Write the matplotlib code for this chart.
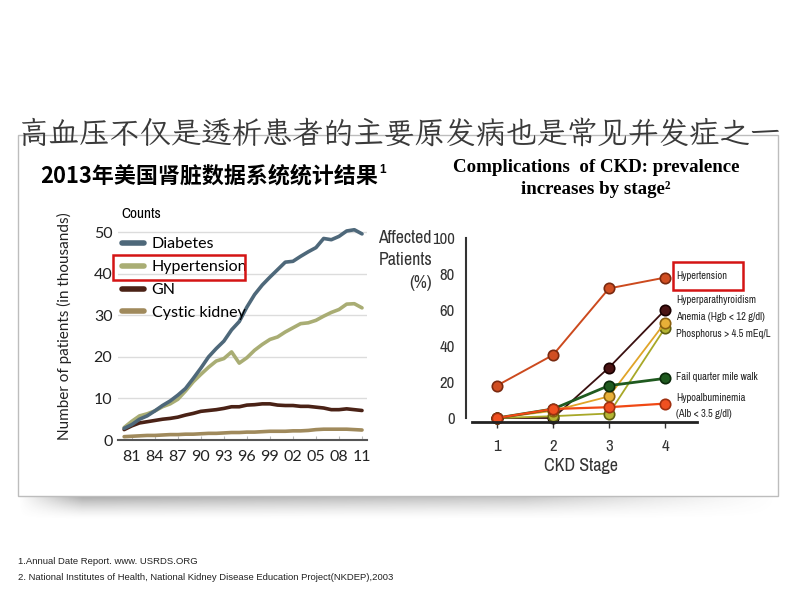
import numpy as np
import matplotlib.pyplot as plt
from matplotlib.patches import Rectangle

W, H = 800, 600

# left chart: USRDS counts (thousands)
years = list(range(1980, 2012))
diabetes = [2.8, 3.7, 5.0, 5.8, 7.0, 8.3, 9.4, 10.8, 12.4, 14.8, 17.3, 20.0, 22.0, 23.8, 26.5, 28.5,
            32.0, 35.0, 37.3, 39.2, 41.0, 42.8, 43.0, 44.2, 45.3, 46.3, 48.5, 48.2, 49.0, 50.3, 50.6, 49.6]
hypertension = [3.0, 4.5, 5.8, 6.3, 7.0, 8.0, 8.7, 9.8, 11.8, 14.0, 15.8, 17.5, 19.0, 19.6, 21.2, 18.5,
                19.8, 21.6, 23.0, 24.2, 24.8, 26.0, 27.0, 28.0, 28.2, 28.8, 29.8, 30.7, 31.4, 32.7, 32.8, 31.8]
gn = [2.5, 3.4, 4.1, 4.4, 4.7, 5.0, 5.2, 5.5, 6.0, 6.4, 6.9, 7.1, 7.3, 7.6, 8.0, 8.0,
      8.4, 8.5, 8.7, 8.7, 8.4, 8.3, 8.3, 8.1, 8.1, 7.9, 7.7, 7.3, 7.3, 7.5, 7.3, 7.1]
cystic = [0.8, 0.9, 1.0, 1.1, 1.1, 1.2, 1.3, 1.3, 1.4, 1.4, 1.5, 1.6, 1.6, 1.7, 1.8, 1.8,
          1.9, 1.9, 2.0, 2.1, 2.1, 2.1, 2.2, 2.2, 2.3, 2.5, 2.6, 2.6, 2.6, 2.6, 2.5, 2.4]
year_ticks = list(range(1981, 2012, 3))
year_labels = ['81', '84', '87', '90', '93', '96', '99', '02', '05', '08', '11']

# right chart: CKD complications (%)
stages = [1, 2, 3, 4]
ckd_htn = [18, 35, 72, 78]
hyperpara = [0, 0, 28, 60]
anemia = [0, 4, 12, 53]
phosphorus = [0, 1, 2.5, 50]
walk = [0, 5, 18, 22]
hypoalb = [0, 5, 6, 8]

NARROW = ['Archivo Narrow', 'DejaVu Sans']
CJK = ['Noto Sans CJK SC', 'DejaVu Sans']
KAI = ['LXGW WenKai TC', 'Noto Sans CJK SC', 'DejaVu Sans']


def fx(x):
    return x / W


def fy(y):
    return 1 - y / H


fig = plt.figure(figsize=(8, 6), dpi=100)
fig.patch.set_facecolor('white')

# slide frame with soft shadow
fig.patches.append(Rectangle((fx(18), fy(496)), fx(760), 361 / H, transform=fig.transFigure,
                             facecolor='white', edgecolor='#bdbdbd', lw=1, zorder=-5))
sh = fig.add_axes([fx(18), fy(520), fx(760), 24 / H], zorder=-6)
rows = np.linspace(1, 0, 24) ** 1.5
xs = np.linspace(0, 1, 300)
cols = np.clip(xs * 12, 0, 1) * np.clip((1 - xs) * 3, 0, 1) * (1 - 0.5 * xs)
img = np.zeros((24, 300, 4))
img[..., :3] = 0.42
img[..., 3] = np.outer(rows, cols) * 0.6
sh.imshow(img, aspect='auto', interpolation='bilinear')
sh.axis('off')

fig.text(fx(400), fy(133), '高血压不仅是透析患者的主要原发病也是常见并发症之一', family=KAI,
         fontsize=22, color='#3a3a3a', ha='center', va='center', zorder=5)

t1 = fig.text(fx(40), fy(176), '2013年美国肾脏数据系统统计结果', family=CJK, fontsize=15.8,
              weight='bold', color='black', ha='left', va='center')
r = fig.canvas.get_renderer()
ext = t1.get_window_extent(r)
fig.text(ext.x1 / W + 0.002, fy(170), '1', family='Liberation Sans', fontsize=8.5, weight='bold',
         ha='left', va='center')

fig.text(fx(596), fy(167), 'Complications  of CKD: prevalence', family='Liberation Serif',
         fontsize=13.6, weight='bold', ha='center', va='center')
fig.text(fx(596), fy(190), 'increases by stage²', family='Liberation Serif',
         fontsize=13.6, weight='bold', ha='center', va='center')

fig.text(fx(18), fy(562), '1.Annual Date Report. www. USRDS.ORG', family='Liberation Sans',
         fontsize=6.8, color='#222222', va='center')
fig.text(fx(18), fy(578), '2. National Institutes of Health, National Kidney Disease Education Project(NKDEP),2003',
         family='Liberation Sans', fontsize=6.8, color='#222222', va='center')

# ---- left chart
ax = fig.add_axes([fx(118), fy(440), fx(249), 214 / H])
ax.patch.set_alpha(0)
ax.plot(years, cystic, color='#a08a5c', lw=2.6, solid_capstyle='round', label='Cystic kidney')
ax.plot(years, gn, color='#4a2216', lw=2.6, solid_capstyle='round', label='GN')
ax.plot(years, hypertension, color='#a9ad74', lw=2.6, solid_capstyle='round', label='Hypertension')
ax.plot(years, diabetes, color='#4e687a', lw=2.6, solid_capstyle='round', label='Diabetes')
ax.set_xlim(1979.2, 2011.65)
ax.set_ylim(0, 51.5)
ax.set_yticks([0, 10, 20, 30, 40, 50])
ax.set_xticks(year_ticks)
ax.set_xticklabels(year_labels)
ax.grid(axis='y', color='#dcdcdc', lw=1)
ax.set_axisbelow(True)
for s in ['top', 'right', 'left']:
    ax.spines[s].set_visible(False)
ax.spines['bottom'].set_color('#555555')
ax.spines['bottom'].set_linewidth(1.5)
ax.tick_params(axis='y', length=0, pad=4, labelsize=11.5, labelcolor='#222222')
ax.tick_params(axis='x', direction='in', length=3, color='#bbbbbb', pad=7, labelsize=11.5,
               labelcolor='#222222')
for t in ax.get_xticklabels() + ax.get_yticklabels():
    t.set_family('Lato')
ax.set_ylabel('Number of patients (in thousands)', family='Lato', fontsize=11, color='#222222')
ax.yaxis.set_label_coords((72 - 118) / 249, 0.53)

handles, labels = ax.get_legend_handles_labels()
leg = ax.legend(handles[::-1], labels[::-1], loc='upper left', bbox_to_anchor=(fx(122), fy(237)),
                bbox_transform=fig.transFigure, frameon=False, borderpad=0, borderaxespad=0,
                handlelength=1.4, handletextpad=0.45, labelspacing=0.55,
                prop={'family': 'Lato', 'size': 11.5})
for ln in leg.get_lines():
    ln.set_linewidth(4)
    ln.set_solid_capstyle('round')

fig.text(fx(121), fy(214), 'Counts', family=NARROW, fontsize=11, weight='bold', va='center')
fig.patches.append(Rectangle((fx(113), fy(280)), fx(132), 25 / H, transform=fig.transFigure,
                             fill=False, edgecolor='#d41414', lw=1.8, zorder=10))

# ---- right chart
bx = fig.add_axes([fx(466), fy(422), fx(231), 184 / H])
bx.patch.set_alpha(0)
series = [
    (hyperpara, '#3a1010', '#4a1414', '#1a0000', 1.3),
    (phosphorus, '#a8a828', '#b4b432', '#5e5e10', 1.3),
    (anemia, '#e0a428', '#e8b038', '#8a6010', 1.3),
    (walk, '#1f5a1f', '#1f5a1f', '#0a2a0a', 2.0),
    (hypoalb, '#f04814', '#f05020', '#a03010', 1.6),
    (ckd_htn, '#cc4a1e', '#d04e22', '#7a2a10', 1.4),
]
for vals, c, fc, ec, lw in series:
    bx.plot(stages, vals, color=c, lw=lw, marker='o', ms=7.5, mfc=fc, mec=ec, mew=1.2, clip_on=False)
bx.set_xlim(1 - 31 / 56, 4 + 32 / 56)
bx.set_ylim(-4 / 1.8, 100)
bx.set_xticks(stages)
bx.set_yticks([0, 20, 40, 60, 80, 100])
for s in ['top', 'right']:
    bx.spines[s].set_visible(False)
bx.spines['left'].set_bounds(0, 100)
bx.spines['left'].set_color('#333333')
bx.spines['left'].set_linewidth(1.5)
bx.spines['bottom'].set_bounds(1 - 25 / 56, 4 + 32 / 56)
bx.spines['bottom'].set_color('#222222')
bx.spines['bottom'].set_linewidth(2)
bx.tick_params(axis='y', length=0, pad=8, labelsize=12, labelcolor='#333333')
bx.tick_params(axis='x', length=4, width=1, color='#333333', pad=8, labelsize=12,
               labelcolor='#333333')
for t in bx.get_xticklabels() + bx.get_yticklabels():
    t.set_family(NARROW)
bx.set_xlabel('CKD Stage', family=NARROW, fontsize=13, color='#333333')
bx.xaxis.label.set_va('center')
bx.xaxis.set_label_coords((581 - 466) / 231, -(466 - 422) / 184)

fig.text(fx(432), fy(238), 'Affected', family=NARROW, fontsize=12.8, color='#333333', ha='right', va='center')
fig.text(fx(432), fy(260), 'Patients', family=NARROW, fontsize=12.8, color='#333333', ha='right', va='center')
fig.text(fx(432), fy(283), '(%)', family=NARROW, fontsize=12.8, color='#333333', ha='right', va='center')

lab_y = [276, 300, 317, 334, 377, 398, 414]
lab_txt = ['Hypertension', 'Hyperparathyroidism', 'Anemia (Hgb < 12 g/dl)', 'Phosphorus > 4.5 mEq/L',
           'Fail quarter mile walk', 'Hypoalbuminemia', '(Alb < 3.5 g/dl)']
for yy, tt in zip(lab_y, lab_txt):
    fig.text(fx(676), fy(yy), tt, family=NARROW, fontsize=7.5, weight='bold', color='#222222',
             va='center', ha='left')
fig.patches.append(Rectangle((fx(673), fy(290)), fx(70), 28 / H, transform=fig.transFigure,
                             fill=False, edgecolor='#d41414', lw=1.8, zorder=10))

fig.savefig('out.png', dpi=100)
